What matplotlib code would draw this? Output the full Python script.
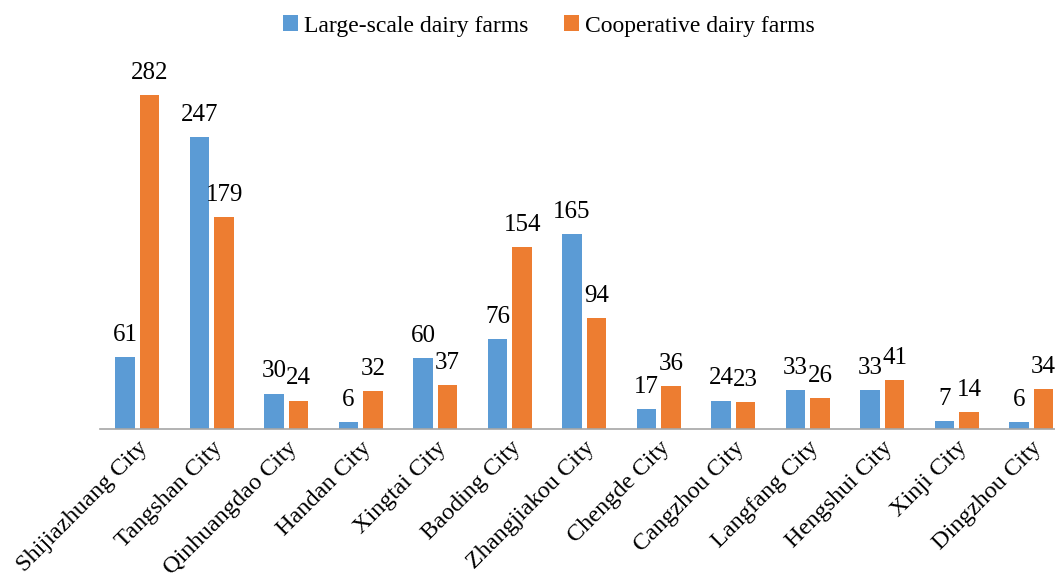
import matplotlib.pyplot as plt
import numpy as np

cities = ["Shijiazhuang City", "Tangshan City", "Qinhuangdao City", "Handan City",
          "Xingtai City", "Baoding City", "Zhangjiakou City", "Chengde City",
          "Cangzhou City", "Langfang City", "Hengshui City", "Xinji City", "Dingzhou City"]
large_scale = [61, 247, 30, 6, 60, 76, 165, 17, 24, 33, 33, 7, 6]
cooperative = [282, 179, 24, 32, 37, 154, 94, 36, 23, 26, 41, 14, 34]

plt.rcParams['font.family'] = ['Liberation Serif', 'DejaVu Serif']

W, H = 1055, 580
fig = plt.figure(figsize=(W / 100, H / 100), dpi=100)
# axes placed in pixel terms (left, bottom, width, height)
ax = fig.add_axes([100 / W, 151 / H, 968.5 / W, 355 / H])

x = np.arange(len(cities))
w = 0.264
off = 0.166
b1 = ax.bar(x - off, large_scale, w, color="#5B9BD5", label="Large-scale dairy farms")
b2 = ax.bar(x + off, cooperative, w, color="#ED7D31", label="Cooperative dairy farms")

for bars, vals in ((b1, large_scale), (b2, cooperative)):
    for rect, v in zip(bars, vals):
        ax.annotate(str(v), (rect.get_x() + rect.get_width() / 2, rect.get_height()),
                    xytext=(0, 8), textcoords="offset points",
                    ha="center", va="bottom", fontsize=18, annotation_clip=False)

ax.set_xlim(-0.5, len(cities) - 0.5)
ax.set_ylim(0, 300)
ax.set_yticks([])
ax.set_xticks(x)
ax.set_xticklabels(cities, rotation=45, ha="right", va="top", rotation_mode="anchor", fontsize=17.5)
ax.tick_params(axis="x", length=0, pad=6)
for s in ["top", "right", "left"]:
    ax.spines[s].set_visible(False)
ax.spines["bottom"].set_color("#A6A6A6")
ax.spines["bottom"].set_linewidth(1.2)

fig.legend(loc="upper center", bbox_to_anchor=(0.52, 1.01), ncol=2, frameon=False,
           fontsize=17, handlelength=0.65, handleheight=0.65, handletextpad=0.25,
           columnspacing=1.5)

fig.savefig("out.png", dpi=100)
